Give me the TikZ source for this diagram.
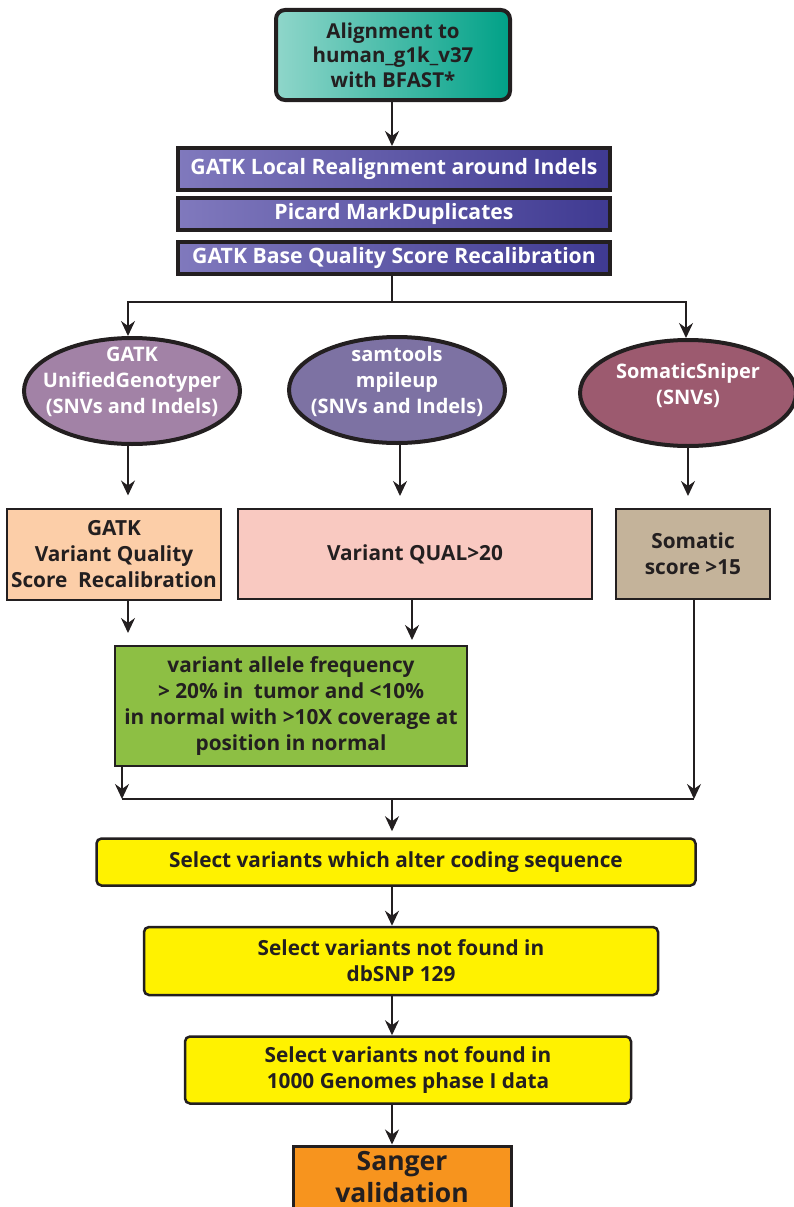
\documentclass[tikz,border=0pt]{standalone}
\usepackage{fontspec}
\setmainfont{Open Sans}
\usetikzlibrary{shapes.geometric,arrows.meta}
\definecolor{inkblack}{HTML}{231F20}
\definecolor{tealleft}{HTML}{8FD6CA}
\definecolor{tealmid}{HTML}{00B39F}
\definecolor{tealright}{HTML}{00A187}
\definecolor{barleft}{HTML}{8079BD}
\definecolor{barright}{HTML}{3F3A92}
\definecolor{gatkfill}{HTML}{A282A6}
\definecolor{samfill}{HTML}{7D72A3}
\definecolor{sniperfill}{HTML}{9C5A6F}
\definecolor{peach}{HTML}{FCCEA8}
\definecolor{pinkfill}{HTML}{F9C9C1}
\definecolor{tanfill}{HTML}{C4B39A}
\definecolor{greenfill}{HTML}{8DBF44}
\definecolor{yellowfill}{HTML}{FFF200}
\definecolor{orangefill}{HTML}{F7941E}
\tikzset{
    arr/.style={draw=inkblack, line width=1.8pt, -{Stealth[length=15pt, width=14pt, inset=5pt]}},
    alignbox/.style={draw=inkblack, line width=4pt, rounded corners=9pt, left color=tealleft, middle color=tealmid, right color=tealright, text=inkblack, font=\bfseries\fontsize{20.5}{24.5}\selectfont, align=center, inner sep=0pt},
    stepbar/.style={draw=inkblack, line width=4pt, left color=barleft, right color=barright, text=white, font=\bfseries\fontsize{21.2}{23}\selectfont, align=center, inner sep=0pt, minimum width=432pt},
    caller/.style={ellipse, draw=inkblack, line width=4pt, inner sep=0pt, minimum width=216pt, minimum height=106pt},
    calltext/.style={text=white, font=\bfseries\fontsize{20}{26}\selectfont, align=center, yshift=9pt},
    filterbox/.style={draw=inkblack, line width=2pt, text=inkblack, font=\bfseries\fontsize{20.8}{26}\selectfont, align=center, inner sep=0pt},
    selectbox/.style={draw=inkblack, line width=2.5pt, rounded corners=5pt, fill=yellowfill, text=inkblack, font=\bfseries\fontsize{20.8}{26}\selectfont, align=center, inner sep=0pt}
}
\begin{document}
\begin{tikzpicture}[x=1pt, y=-1pt]
        \useasboundingbox (0, 0) rectangle (794, 1207);
        \node (align) at (393, 55) [alignbox, minimum width=234pt, minimum height=90pt] {Alignment to\\human\_g1k\_v37\\with BFAST*};
        \node (realign) at (394, 169) [stepbar, minimum height=42pt] {GATK Local Realignment around Indels};
        \node (markdup) at (394, 214) [stepbar, minimum height=32pt] {Picard MarkDuplicates};
        \node (bqsr) at (394, 258) [stepbar, minimum height=32pt] {GATK Base Quality Score Recalibration};

        \node (gatkug) at (132, 391) [caller, fill=gatkfill, label={[calltext]center:{GATK\\UnifiedGenotyper\\(SNVs and Indels)}}] {};
        \node (samtools) at (397, 390) [caller, fill=samfill, label={[calltext]center:{samtools\\mpileup\\(SNVs and Indels)}}] {};
        \node (sniper) at (688, 393) [caller, fill=sniperfill, label={[calltext, yshift=-1pt]center:{SomaticSniper\\(SNVs)}}] {};

        \node (vqsr) at (114, 554) [filterbox, fill=peach, minimum width=214pt, minimum height=91pt] {GATK\\Variant Quality\\Score~ Recalibration};
        \node (qual) at (415, 554) [filterbox, fill=pinkfill, minimum width=354pt, minimum height=90pt] {Variant QUAL>20};
        \node (somscore) at (693, 554) [filterbox, fill=tanfill, minimum width=154pt, minimum height=90pt] {Somatic\\score >15};
        \node (vaf) at (291, 706) [filterbox, fill=greenfill, minimum width=352pt, minimum height=120pt] {variant allele frequency\\> 20\% in~ tumor and <10\%\\in normal with >10X coverage at\\position in normal};

        \node (coding) at (396, 862) [selectbox, minimum width=599pt, minimum height=47pt] {Select variants which alter coding sequence};
        \node (dbsnp) at (401, 961) [selectbox, minimum width=514pt, minimum height=68pt] {Select variants not found in\\dbSNP 129};
        \node (kg) at (408, 1070) [selectbox, minimum width=446pt, minimum height=67pt] {Select variants not found in\\1000 Genomes phase I data};
        \node (sanger) at (402, 1177) [filterbox, line width=3pt, fill=orangefill, minimum width=218pt, minimum height=62pt, font=\bfseries\fontsize{26.5}{32}\selectfont] {Sanger\\validation};

        \coordinate (spine) at (392, 0);
        \coordinate (split) at (392, 302);
        \coordinate (joinL) at (122, 799);
        \coordinate (joinR) at (694, 799);
        \coordinate (joinM) at (392, 799);

        \draw[arr] (spine |- align.south) -- (spine |- realign.north);
        \draw[line width=1.8pt, draw=inkblack] (spine |- bqsr.south) -- (split);
        \draw[arr] (split) -| ([xshift=-4pt]gatkug.north);
        \draw[arr] (split) -| ([xshift=-2pt]sniper.north);

        \draw[arr, shorten >=12pt] ([xshift=-4pt]gatkug.south) -- ([xshift=-4pt]gatkug.south |- vqsr.north);
        \draw[arr, shorten >=12pt] ([xshift=3pt]samtools.south) -- ([xshift=3pt]samtools.south |- qual.north);
        \draw[arr, shorten >=12pt] (sniper.south) -- (sniper.south |- somscore.north);

        \draw[arr, shorten >=12pt] ([xshift=-4pt]gatkug.south |- vqsr.south) -- ([xshift=-4pt]gatkug.south |- vaf.north);
        \draw[arr, shorten >=5pt] ([xshift=-3pt]qual.south) -- ([xshift=-3pt]qual.south |- vaf.north);
        \draw[arr] (joinL |- vaf.south) -- (joinL);
        \draw[arr] (joinR |- somscore.south) -- (joinR);
        \draw[line width=1.8pt, draw=inkblack] (joinL) -- (joinR);
        \draw[arr, shorten >=6pt] (joinM) -- (spine |- coding.north);

        \foreach \a/\b in {coding/dbsnp, dbsnp/kg, kg/sanger}
            \draw[arr] (spine |- \a.south) -- (spine |- \b.north);
\end{tikzpicture}
\end{document}
